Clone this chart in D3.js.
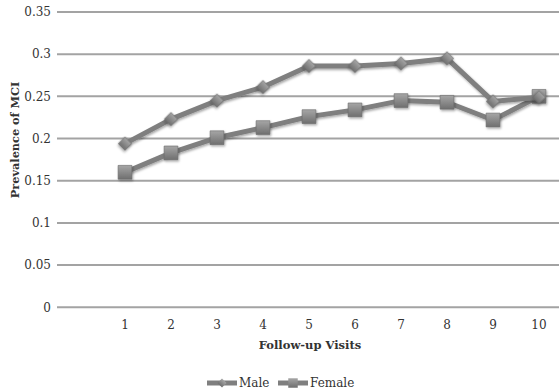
<!DOCTYPE html>
<html><head><meta charset="utf-8">
<script src="https://cdn.jsdelivr.net/npm/d3@7"></script>
<style>body{margin:0;background:#fff}svg{display:block}</style>
</head><body>
<svg id="c" width="559" height="391"></svg>
<script>
const visits = [1,2,3,4,5,6,7,8,9,10];
const male = [0.194,0.223,0.245,0.261,0.286,0.286,0.289,0.295,0.244,0.249];
const female = [0.160,0.183,0.201,0.213,0.226,0.234,0.245,0.243,0.222,0.250];
const yTicks = [0,0.05,0.1,0.15,0.2,0.25,0.3,0.35];
const yTickLabels = ["0","0.05","0.1","0.15","0.2","0.25","0.3","0.35"];
const seriesNames = ["Male","Female"];

const svg = d3.select("#c");
const font = "'DejaVu Serif', serif";
const x = d3.scaleLinear().domain([1,10]).range([125,539]);
const y = d3.scaleLinear().domain([0,0.35]).range([307.3,12]);
const gridX0 = 57, gridX1 = 559;

const defs = svg.append("defs");
const grad = defs.append("linearGradient").attr("id","mk").attr("x1",0).attr("y1",0).attr("x2",0).attr("y2",1);
grad.append("stop").attr("offset","0%").attr("stop-color","#a6a6a6");
grad.append("stop").attr("offset","100%").attr("stop-color","#6f6f6f");
const f = defs.append("filter").attr("id","sh").attr("x","-50%").attr("y","-50%").attr("width","200%").attr("height","200%");
f.append("feDropShadow").attr("dx",1).attr("dy",1.5).attr("stdDeviation",1).attr("flood-color","#000").attr("flood-opacity",0.35);

// gridlines
svg.append("g").selectAll("line").data(yTicks).join("line")
  .attr("x1",gridX0).attr("x2",gridX1)
  .attr("y1",d=>y(d)).attr("y2",d=>y(d))
  .attr("stroke","#a3a3a3").attr("stroke-width",2);

// y tick labels
svg.append("g").selectAll("text").data(yTicks).join("text")
  .attr("x",51).attr("y",d=>y(d)).attr("dy","0.35em")
  .attr("text-anchor","end").attr("font-family",font).attr("font-size",12)
  .attr("fill","#333").text((d,i)=>yTickLabels[i]);

// x tick labels
svg.append("g").selectAll("text").data(visits).join("text")
  .attr("x",d=>x(d)).attr("y",329).attr("text-anchor","middle")
  .attr("font-family",font).attr("font-size",12).attr("fill","#333").text(d=>d);

// axis titles
svg.append("text").attr("x",310).attr("y",349).attr("text-anchor","middle")
  .attr("font-family",font).attr("font-size",11.5).attr("font-weight","bold").attr("fill","#333")
  .text("Follow-up Visits");
svg.append("text").attr("transform","translate(19,140) rotate(-90)").attr("text-anchor","middle")
  .attr("font-family",font).attr("font-size",11.3).attr("font-weight","bold").attr("fill","#333")
  .text("Prevalence of MCI");

const line = d3.line().x((d,i)=>x(visits[i])).y(d=>y(d));
const lineColor = "#7f7f7f";

function drawSeries(vals, shape){
  const g = svg.append("g");
  g.append("path").datum(vals).attr("d",line).attr("fill","none")
    .attr("stroke",lineColor).attr("stroke-width",5).attr("stroke-linejoin","round")
    .attr("filter","url(#sh)");
  const sym = shape==="diamond" ? d3.symbol(d3.symbolSquare, 90) : d3.symbol(d3.symbolSquare, 190);
  g.selectAll("path.m").data(vals).join("path").attr("class","m")
    .attr("d", sym)
    .attr("transform",(d,i)=>`translate(${x(visits[i])},${y(d)})` + (shape==="diamond"?" rotate(45)":""))
    .attr("fill","url(#mk)").attr("stroke","#6a6a6a").attr("stroke-width",0.6)
    .attr("filter","url(#sh)");
}
drawSeries(female,"square");
drawSeries(male,"diamond");

// legend
const leg = svg.append("g");
const items = [{name:seriesNames[0],shape:"diamond",x0:207,tx:239},{name:seriesNames[1],shape:"square",x0:278,tx:310}];
items.forEach(it=>{
  leg.append("line").attr("x1",it.x0).attr("x2",it.x0+30).attr("y1",383).attr("y2",383)
    .attr("stroke",lineColor).attr("stroke-width",5);
  leg.append("path").attr("d", it.shape==="diamond"? d3.symbol(d3.symbolSquare,40)() : d3.symbol(d3.symbolSquare,90)())
    .attr("transform",`translate(${it.x0+15},383)` + (it.shape==="diamond"?" rotate(45)":""))
    .attr("fill","url(#mk)");
  leg.append("text").attr("x",it.tx).attr("y",383).attr("dy","0.35em")
    .attr("font-family",font).attr("font-size",12).attr("fill","#333").text(it.name);
});
</script>
</body></html>
